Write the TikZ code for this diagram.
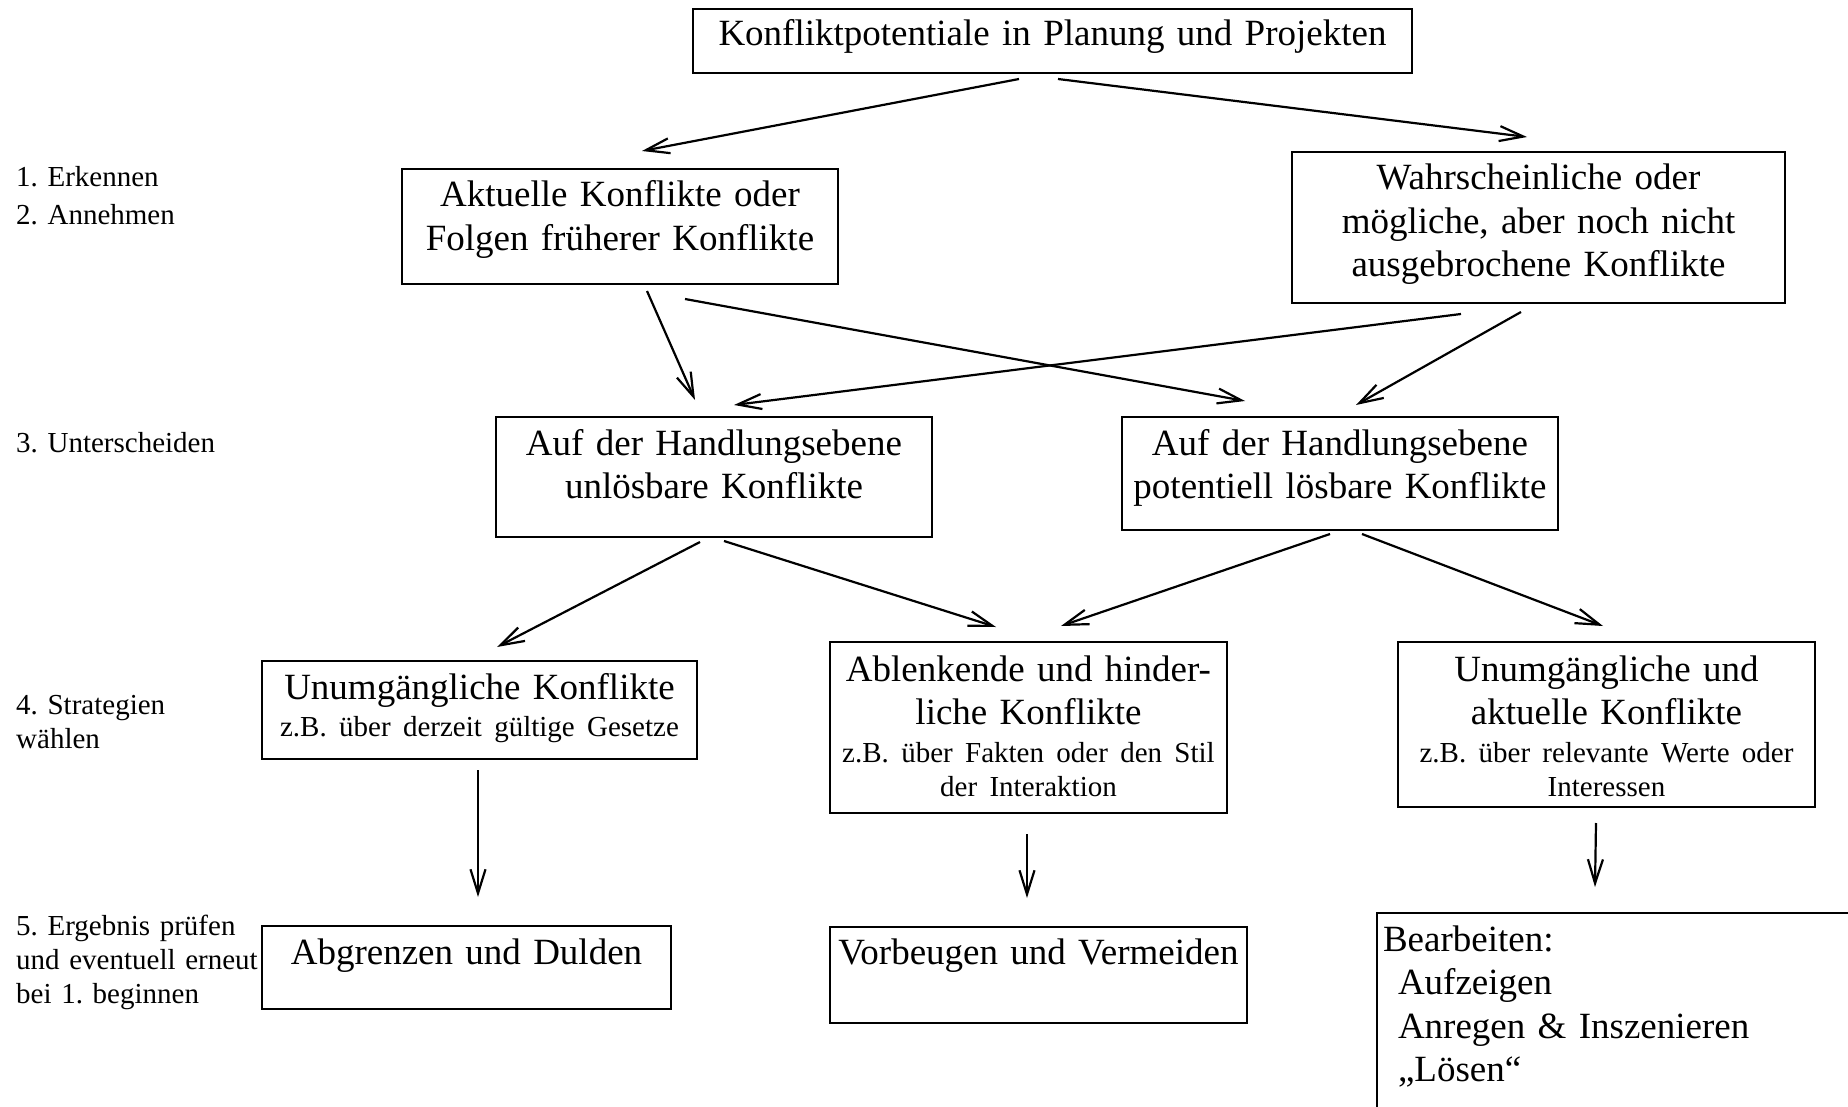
\documentclass[tikz,border=0pt]{standalone}
\usepackage{fontspec}
\setmainfont{Liberation Serif}
\usepackage{tikz}
\usetikzlibrary{arrows.meta}
\frenchspacing

\newcommand{\bigtxt}{\fontsize{37}{43.5}\selectfont}
\newcommand{\smalltxt}{\fontsize{29}{34}\selectfont}

\tikzset{
    box/.style={draw, line width=2pt, inner sep=0pt, anchor=north west, align=center, font=\bigtxt},
    lbl/.style={inner sep=0pt, anchor=base west, align=left, text width=260pt, font=\smalltxt},
    arr/.style={-{Straight Barb[length=24pt, width=15pt]}, line width=2.2pt}
}

\begin{document}
\begin{tikzpicture}[x=1pt, y=-1pt]
            \useasboundingbox (0,0) rectangle (1848,1107);
            \clip (0,0) rectangle (1848,1107);

            % Steps
            \node[lbl] (s12) at (16,187) {1. Erkennen\\[4pt]2. Annehmen};
            \node[lbl] (s3) at (16,452) {3. Unterscheiden};
            \node[lbl] (s4) at (16,714) {4. Strategien\\wählen};
            \node[lbl] (s5) at (16,935) {5. Ergebnis prüfen\\und eventuell erneut\\bei 1. beginnen};

            % Nodes
            \node[box, text width=719pt, text height=37pt, text depth=27pt] (pot) at (692,8) {Konfliktpotentiale in Planung und Projekten};
            \node[box, text width=436pt, text height=38pt, text depth=77pt] (akt) at (401,168) {Aktuelle Konflikte oder\\Folgen früherer Konflikte};
            \node[box, text width=493pt, text height=38pt, text depth=113pt] (wahr) at (1291,151) {Wahrscheinliche oder\\mögliche, aber noch nicht\\ausgebrochene Konflikte};
            \node[box, text width=436pt, text height=38pt, text depth=82pt] (unl) at (495,416) {Auf der Handlungsebene\\unlösbare Konflikte};
            \node[box, text width=436pt, text height=38pt, text depth=75pt] (lsb) at (1121,416) {Auf der Handlungsebene\\potentiell lösbare Konflikte};
            \node[box, text width=435pt, text height=38pt, text depth=60pt] (unv) at (261,660) {Unumgängliche Konflikte\par
                \vspace{3pt}\smalltxt z.B. über derzeit gültige Gesetze\par};
            \node[box, text width=397pt, text height=39pt, text depth=132pt] (abl) at (829,641) {Ablenkende und hinder-\\liche Konflikte\par
                \vspace{4pt}\smalltxt z.B. über Fakten oder den Stil\\der Interaktion\par};
            \node[box, text width=417pt, text height=39pt, text depth=126pt] (akk) at (1397,641) {Unumgängliche und\\aktuelle Konflikte\par
                \vspace{4pt}\smalltxt z.B. über relevante Werte oder\\Interessen\par};
            \node[box, text width=409pt, text height=38pt, text depth=45pt] (abg) at (261,925) {Abgrenzen und Dulden};
            \node[box, text width=417pt, text height=37pt, text depth=59pt] (vor) at (829,926) {Vorbeugen und Vermeiden};
            \node[box, align=left, inner xsep=6pt, text width=490pt, text height=38pt, text depth=190pt] (bea) at (1376,912) {Bearbeiten:\\
                \hspace*{15pt}Aufzeigen\\
                \hspace*{15pt}Anregen \& Inszenieren\\
                \hspace*{15pt}„Lösen“};

            % Lines
            \draw[arr] ([xshift=-33.5pt, yshift=-5pt]pot.south) -- ([xshift=22pt, yshift=17pt]akt.north);
            \draw[arr] ([xshift=5.5pt, yshift=-5pt]pot.south) -- ([xshift=-11.5pt, yshift=14pt]wahr.north);
            \draw[arr] ([xshift=27pt, yshift=-6pt]akt.south) -- ([xshift=-19pt, yshift=16pt]unl.north);
            \draw[arr] ([xshift=65pt, yshift=-14pt]akt.south) -- ([xshift=-95pt, yshift=15pt]lsb.north);
            \draw[arr] ([xshift=-77.5pt, yshift=-10pt]wahr.south) -- ([xshift=20pt, yshift=11pt]unl.north);
            \draw[arr] ([xshift=-17.5pt, yshift=-8pt]wahr.south) -- ([xshift=16pt, yshift=11pt]lsb.north);
            \draw[arr] ([xshift=-14pt, yshift=-4pt]unl.south) -- ([xshift=17.5pt, yshift=13pt]unv.north);
            \draw[arr] ([xshift=10pt, yshift=-3pt]unl.south) -- ([xshift=-32.5pt, yshift=14pt]abl.north);
            \draw[arr] ([xshift=-10pt, yshift=-3pt]lsb.south) -- ([xshift=32.5pt, yshift=15pt]abl.north);
            \draw[arr] ([xshift=22pt, yshift=-3pt]lsb.south) -- ([xshift=-3.5pt, yshift=15pt]akk.north);
            \draw[arr] ([xshift=-1.5pt, yshift=-10pt]unv.south) -- ([xshift=11.5pt, yshift=28pt]abg.north);
            \draw[arr] ([xshift=-1.5pt, yshift=-20pt]abl.south) -- ([xshift=-11.5pt, yshift=28pt]vor.north);
            \draw[arr] ([xshift=-10.5pt, yshift=-15pt]akk.south) -- ([xshift=219pt, yshift=25pt]bea.north west);
        \end{tikzpicture}
\end{document}
